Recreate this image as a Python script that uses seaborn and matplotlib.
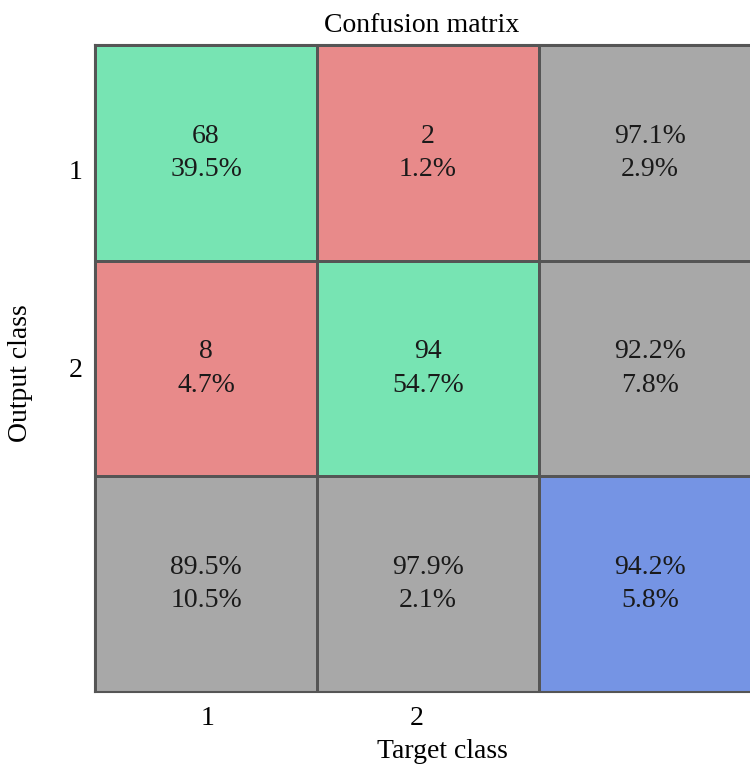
import numpy as np
import seaborn as sns
import matplotlib.pyplot as plt
from matplotlib.colors import ListedColormap

# values
classes = ["1", "2"]
counts = [[68, 2], [8, 94]]
cell_pct = [[39.5, 1.2], [4.7, 54.7]]
row_correct = [97.1, 92.2]
row_wrong = [2.9, 7.8]
col_correct = [89.5, 97.9]
col_wrong = [10.5, 2.1]
total_correct = 94.2
total_wrong = 5.8

# build the 3x3 annotation grid and colour codes
# 0 = correct (green), 1 = wrong (red), 2 = summary (gray), 3 = overall (blue)
n = len(classes)
labels = np.empty((n + 1, n + 1), dtype=object)
codes = np.zeros((n + 1, n + 1))
for i in range(n):
    for j in range(n):
        labels[i, j] = f"{counts[i][j]}\n{cell_pct[i][j]:.1f}%"
        codes[i, j] = 0 if i == j else 1
    labels[i, n] = f"{row_correct[i]:.1f}%\n{row_wrong[i]:.1f}%"
    codes[i, n] = 2
    labels[n, i] = f"{col_correct[i]:.1f}%\n{col_wrong[i]:.1f}%"
    codes[n, i] = 2
labels[n, n] = f"{total_correct:.1f}%\n{total_wrong:.1f}%"
codes[n, n] = 3

cmap = ListedColormap(["#77e4b3", "#e88a8a", "#a8a8a8", "#7594e4"])

plt.rcParams["font.family"] = ["Liberation Serif", "DejaVu Serif"]

fig = plt.figure(figsize=(7.5, 7.67), dpi=100)
ax = fig.add_axes([95 / 750, 75 / 767, 666 / 750, 647 / 767])

sns.heatmap(codes, annot=labels, fmt="", cmap=cmap, vmin=-0.5, vmax=3.5,
            cbar=False, linewidths=2, linecolor="#555555",
            annot_kws={"fontsize": 20, "color": "#1a1a1a", "linespacing": 1.45},
            ax=ax)

# tick labels sit slightly off the cell centres in the original
ax.set_xticks([0.505, 1.45])
ax.set_xticklabels(classes, fontsize=20)
ax.set_yticks([0.59, 1.51])
ax.set_yticklabels(classes, fontsize=20, rotation=0)
ax.tick_params(axis="x", length=0, pad=10)
ax.tick_params(axis="y", length=0, pad=9)

ax.set_xlabel("Target class", fontsize=20)
ax.xaxis.set_label_coords(0.521, -0.072)
ax.set_ylabel("Output class", fontsize=20)
ax.yaxis.set_label_coords(-0.093, 0.493)
ax.set_title("Confusion matrix", fontsize=20, x=0.491, pad=9)

for s in ax.spines.values():
    s.set_visible(True)
    s.set_color("#555555")
    s.set_linewidth(1.5)

fig.savefig("out.png", dpi=100)
